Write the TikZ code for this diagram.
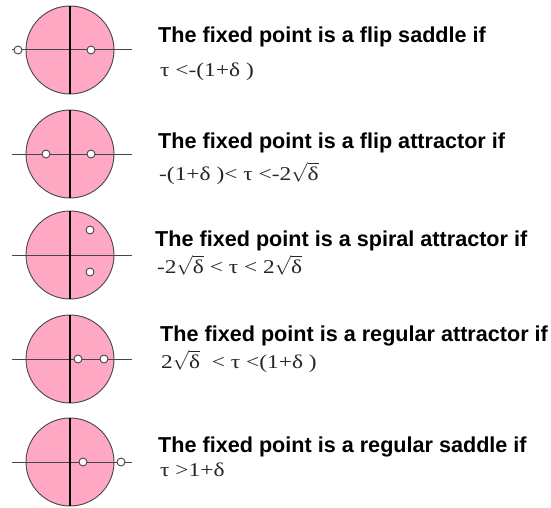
\RequirePackage{fix-cm}
\documentclass[tikz,border=0pt]{standalone}
\usepackage{fontspec}
\newfontfamily\headfont{Liberation Sans}
\newfontfamily\condfont{Liberation Serif}[FakeStretch=1.2]
\definecolor{diskpink}{RGB}{255,168,196}
\definecolor{rimgray}{RGB}{70,70,70}
\newcommand{\rtd}{$\sqrt{\mbox{δ}}$}
\tikzset{
  disk/.style={circle, draw=rimgray, fill=diskpink, line width=0.9pt,
    minimum size=88pt, inner sep=0pt, outer sep=0pt},
  haxis/.style={draw=rimgray, line width=1pt},
  vaxis/.style={draw=black, line width=1.2pt},
  eig/.style={circle, draw=rimgray, fill=white, line width=0.9pt,
    minimum size=8pt, inner sep=0pt},
  head/.style={anchor=base west, inner sep=0pt,
    font=\headfont\bfseries\fontsize{21.6}{24}\selectfont},
  cond/.style={anchor=base west, inner sep=0pt, text=black!85,
    font=\condfont\fontsize{19.5}{22}\selectfont}
}
\begin{document}
\begin{tikzpicture}[x=1pt, y=-1pt]
    \useasboundingbox (0,0) rectangle (551,508);
    % Discos unidad con ejes
    \foreach \i/\cy in {1/50, 2/154, 3/255, 4/359, 5/462}{
        \node[disk] (c\i) at (70,\cy) {};
        \coordinate (l\i) at (12,\cy);
        \coordinate (r\i) at (132,\cy);
        \draw[haxis] (l\i) -- (r\i);
        \draw[vaxis] (c\i.north) -- (c\i.south);
    }
    % Autovalores
    \foreach \n/\x/\y in {e1a/18/50, e1b/91/50, e2a/46/154, e2b/91/154,
                          e3a/90/230, e3b/90/272, e4a/78/359, e4b/104/359,
                          e5a/83/462, e5b/121/462}
        \node[eig] (\n) at (\x,\y) {};
    % Textos
    \node[head] (h1) at (158,43) {The fixed point is a flip saddle if};
    \node[cond] (t1) at (160,77) {τ <-(1+δ )};
    \node[head] (h2) at (158,148) {The fixed point is a flip attractor if};
    \node[cond] (t2) at (159,180) {-(1+δ )< τ <-2\rtd};
    \node[head] (h3) at (155,246) {The fixed point is a spiral attractor if};
    \node[cond] (t3) at (157,273) {-2\rtd{} < τ < 2\rtd};
    \node[head] (h4) at (160,341) {The fixed point is a regular attractor if};
    \node[cond] (t4) at (161,368) {2\rtd{}\ \ < τ <(1+δ )};
    \node[head] (h5) at (158,452) {The fixed point is a regular saddle if};
    \node[cond] (t5) at (160,476) {τ >1+δ};
\end{tikzpicture}
\end{document}
